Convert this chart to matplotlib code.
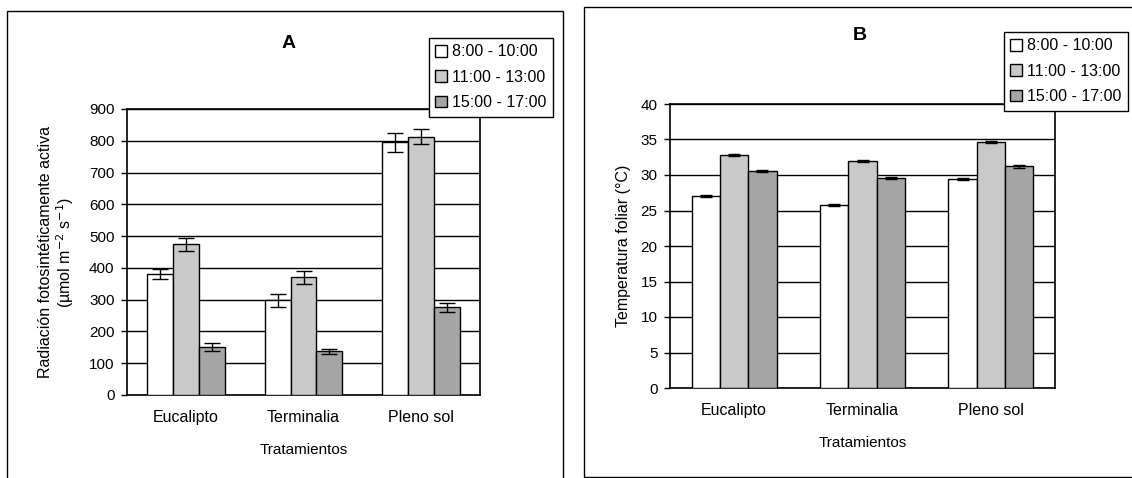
import matplotlib
matplotlib.use("Agg")
import matplotlib.pyplot as plt
from matplotlib.patches import Rectangle, Patch
import numpy as np

plt.rcParams['font.family'] = ['Liberation Sans', 'DejaVu Sans']

categories = ["Eucalipto", "Terminalia", "Pleno sol"]
series = ["8:00 - 10:00", "11:00 - 13:00", "15:00 - 17:00"]

# Panel A: Radiación fotosintéticamente activa
rad_values = [[380, 298, 795],     # 8:00 - 10:00
              [474, 370, 813],     # 11:00 - 13:00
              [150, 137, 276]]     # 15:00 - 17:00
rad_err = [[15, 20, 29],
           [20, 20, 24],
           [13, 7, 15]]

# Panel B: Temperatura foliar
temp_values = [[27.1, 25.8, 29.4],
               [32.8, 32.0, 34.6],
               [30.6, 29.6, 31.2]]
temp_err = [[0.15, 0.1, 0.15],
            [0.15, 0.15, 0.15],
            [0.15, 0.15, 0.15]]

colors = ["#ffffff", "#c9c9c9", "#a5a5a5"]

W, H = 1132, 478
fig = plt.figure(figsize=(W / 100, H / 100), dpi=100)

def fx(px):
    return px / W

def fy(py):
    return 1 - py / H

# outer frames
fig.patches.append(Rectangle((fx(7), -0.05), fx(563) - fx(7), fy(11) + 0.05,
                             transform=fig.transFigure, fill=False,
                             edgecolor="black", lw=1.0, clip_on=False))
fig.patches.append(Rectangle((fx(584), fy(477)), 1.05 - fx(584), fy(7) - fy(477),
                             transform=fig.transFigure, fill=False,
                             edgecolor="black", lw=1.0, clip_on=False))

axA = fig.add_axes([fx(127), fy(395), fx(480) - fx(127), fy(109) - fy(395)])
axB = fig.add_axes([fx(670), fy(388), fx(1055) - fx(670), fy(104) - fy(388)])

width = 0.22
x = np.arange(len(categories))

def draw(ax, values, errs, ylim, yticks, capsize):
    for i, (vals, err) in enumerate(zip(values, errs)):
        pos = x + (i - 1) * width
        ax.bar(pos, vals, width, color=colors[i], edgecolor="black",
               linewidth=1.0, zorder=3)
        ax.errorbar(pos, vals, yerr=err, fmt="none", ecolor="black",
                    elinewidth=1.0, capsize=capsize, capthick=1.0, zorder=4)
    ax.set_xlim(-0.5, len(categories) - 0.5)
    ax.set_ylim(*ylim)
    ax.set_yticks(yticks)
    ax.yaxis.grid(True, color="black", linewidth=1.0, zorder=0)
    ax.set_axisbelow(True)
    ax.set_xticks(x)
    ax.set_xticklabels(categories, fontsize=11.5)
    ax.tick_params(axis="x", length=0, pad=11)
    ax.tick_params(axis="y", direction="out", length=4, width=1,
                   labelsize=11, pad=5)
    for s in ax.spines.values():
        s.set_linewidth(1.2)
        s.set_color("black")
    ax.set_xlabel("Tratamientos", fontsize=11, labelpad=13)

draw(axA, rad_values, rad_err, (0, 900), np.arange(0, 901, 100), 5.5)
draw(axB, temp_values, temp_err, (0, 40), np.arange(0, 41, 5), 4)

axA.set_ylabel("Radiación fotosintéticamente activa\n(µmol m$^{-2}$ s$^{-1}$)",
               fontsize=11.5, labelpad=9, linespacing=1.1)
axB.set_ylabel("Temperatura foliar (°C)", fontsize=11.5, labelpad=7)

fig.text(fx(289), fy(43), "A", fontsize=14, fontweight="bold",
         ha="center", va="center")
fig.text(fx(860), fy(35), "B", fontsize=14, fontweight="bold",
         ha="center", va="center")

handles = [Patch(facecolor=c, edgecolor="black", linewidth=1.0) for c in colors]
for (lx, ly) in [(429, 38), (1004, 32)]:
    leg = fig.legend(handles, series, loc="upper left",
                     bbox_to_anchor=(fx(lx), fy(ly)),
                     bbox_transform=fig.transFigure,
                     fontsize=11.5, handlelength=0.75, handleheight=0.75,
                     handletextpad=0.3, labelspacing=0.65, borderpad=0.4,
                     borderaxespad=0, fancybox=False, framealpha=1,
                     edgecolor="black")
    leg.get_frame().set_linewidth(1.0)

fig.savefig("out.png", dpi=100)
